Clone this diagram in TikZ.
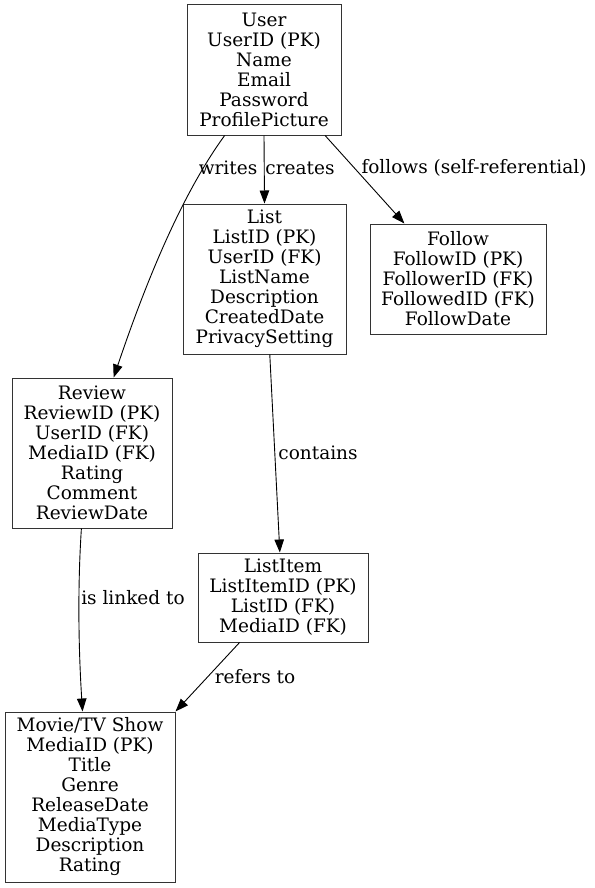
\documentclass[tikz,border=0pt]{standalone}
\usepackage{fontspec}
\setmainfont{DejaVu Serif}
\usetikzlibrary{arrows.meta, positioning}

\begin{document}
\begin{tikzpicture}[
    x=1pt, y=-1pt,
    entity/.style={rectangle, draw=black!80, line width=1pt, align=center, inner sep=0pt, font=\fontsize{18.5}{20}\selectfont},
    rel/.style={draw=black, line width=0.9pt, -{Triangle[length=13pt, width=9.5pt]}},
    lbl/.style={inner sep=0pt, font=\fontsize{18.5}{20}\selectfont}
]
    \useasboundingbox (0,0) rectangle (594,888);

    % Entities
    \node[entity, minimum width=154, minimum height=130] (user) at (264,70) {User\\UserID (PK)\\Name\\Email\\Password\\ProfilePicture};
    \node[entity, minimum width=163, minimum height=150] (list) at (264.5,279) {List\\ListID (PK)\\UserID (FK)\\ListName\\Description\\CreatedDate\\PrivacySetting};
    \node[entity, minimum width=176, minimum height=110] (follow) at (458,279) {Follow\\FollowID (PK)\\FollowerID (FK)\\FollowedID (FK)\\FollowDate};
    \node[entity, minimum width=160, minimum height=150] (review) at (92,453) {Review\\ReviewID (PK)\\UserID (FK)\\MediaID (FK)\\Rating\\Comment\\ReviewDate};
    \node[entity, minimum width=170, minimum height=89] (listitem) at (283,597.5) {ListItem\\ListItemID (PK)\\ListID (FK)\\MediaID (FK)};
    \node[entity, minimum width=170, minimum height=170] (media) at (90,797) {Movie/TV Show\\MediaID (PK)\\Title\\Genre\\ReleaseDate\\MediaType\\Description\\Rating};

    % Relationships
    \draw[rel] (user.239) .. controls (185,190) and (150,270) .. (review.74)
        node[lbl, at={(228,168)}] {writes};
    \draw[rel] (user.south) -- (list.north)
        node[lbl, at={(300,168)}] {creates};
    \draw[rel] (user.313) -- (follow.134)
        node[lbl, at={(474,168)}] {follows (self-referential)};
    \draw[rel] (list.274) -- (listitem.94)
        node[lbl, at={(318,453)}] {contains};
    \draw[rel] (review.262) .. controls (78,580) and (78,640) .. (media.95)
        node[lbl, at={(133,598)}] {is linked to};
    \draw[rel] (listitem.226) -- (media.north east)
        node[lbl, at={(255,677)}] {refers to};
\end{tikzpicture}
\end{document}
